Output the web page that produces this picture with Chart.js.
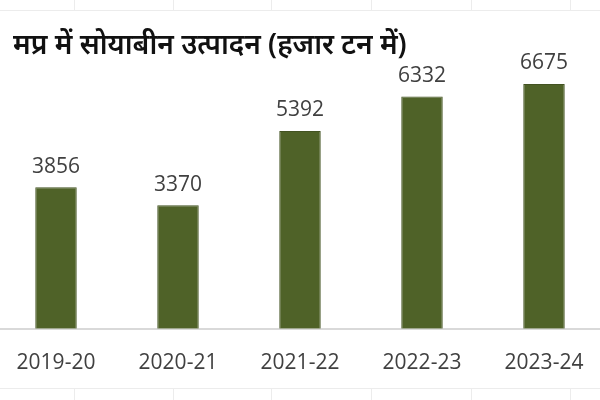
<!DOCTYPE html>
<html>
<head>
<meta charset="utf-8">
<script src="https://cdn.jsdelivr.net/npm/chart.js@4"></script>
<style>
    html, body { margin: 0; padding: 0; background: #fff; overflow: hidden; }
    #wrap { position: relative; width: 610px; height: 400px; margin-left: -5px; }
</style>
</head>
<body>
<div id="wrap"><canvas id="soyChart" width="610" height="400"></canvas></div>
<script>
const chartTitle = 'मप्र में सोयाबीन उत्पादन (हजार टन में)';
const years = ['2019-20', '2020-21', '2021-22', '2022-23', '2023-24'];
const production = [3856, 3370, 5392, 6332, 6675];

const barColor = '#4f6228';
const textColor = '#404040';

// faint spreadsheet cell borders behind the chart
const sheetLines = {
    id: 'sheetLines',
    beforeDraw(chart) {
        const ctx = chart.ctx;
        ctx.save();
        ctx.strokeStyle = '#ececec';
        ctx.lineWidth = 1;
        ctx.beginPath();
        ctx.moveTo(0, 10.5); ctx.lineTo(chart.width, 10.5);
        ctx.moveTo(0, 388.5); ctx.lineTo(chart.width, 388.5);
        [79, 178, 276, 376, 476, 575].forEach(x => {
            ctx.moveTo(x + 0.5, 0); ctx.lineTo(x + 0.5, 10);
            ctx.moveTo(x + 0.5, 389); ctx.lineTo(x + 0.5, 400);
        });
        ctx.stroke();
        ctx.restore();
    }
};

const titleAndLabels = {
    id: 'titleAndLabels',
    afterDatasetsDraw(chart) {
        const ctx = chart.ctx;
        ctx.save();
        ctx.fillStyle = '#111';
        ctx.font = '600 28px "Noto Sans", "DejaVu Sans", sans-serif';
        ctx.textAlign = 'left';
        ctx.textBaseline = 'alphabetic';
        ctx.fillText(chartTitle, 18, 54);

        ctx.fillStyle = textColor;
        ctx.font = '21px "Open Sans", sans-serif';
        ctx.textAlign = 'center';
        ctx.textBaseline = 'bottom';
        const meta = chart.getDatasetMeta(0);
        meta.data.forEach((bar, i) => {
            ctx.fillText(production[i], bar.x, bar.y - 10);
        });
        ctx.restore();
    }
};

new Chart(document.getElementById('soyChart'), {
    type: 'bar',
    data: {
        labels: years,
        datasets: [{
            data: production,
            backgroundColor: barColor,
            borderColor: '#435322',
            borderWidth: 1,
            barPercentage: 0.68,
            categoryPercentage: 0.5
        }]
    },
    options: {
        responsive: false,
        animation: false,
        layout: {
            padding: { top: 72, bottom: 10, left: 0, right: 0 }
        },
        plugins: {
            legend: { display: false },
            title: { display: false },
            tooltip: { enabled: false }
        },
        scales: {
            x: {
                grid: { display: false },
                border: { display: true, color: '#d9d9d9', width: 2 },
                ticks: {
                    color: textColor,
                    padding: 14,
                    font: { family: '"Open Sans", sans-serif', size: 21 }
                }
            },
            y: {
                display: false,
                min: 0,
                max: 7000
            }
        }
    },
    plugins: [sheetLines, titleAndLabels]
});
</script>
</body>
</html>
